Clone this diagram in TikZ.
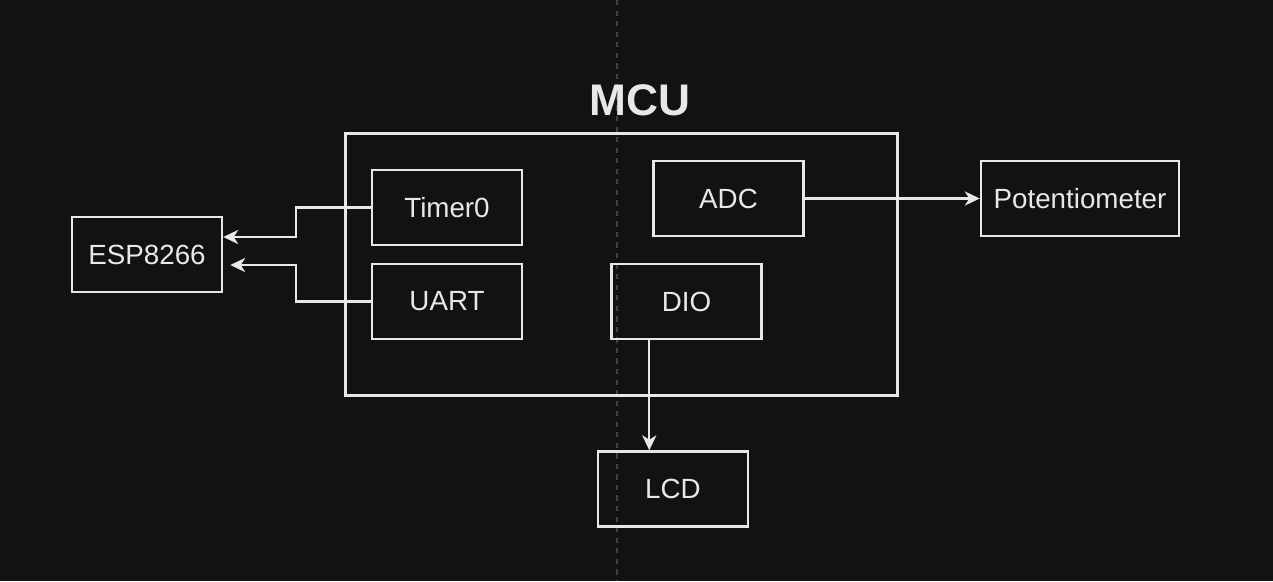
\documentclass[tikz,border=0pt]{standalone}
\usepackage{fontspec}
\setmainfont{Liberation Sans}
\usetikzlibrary{arrows.meta,calc}
\definecolor{bgdark}{HTML}{121212}
\definecolor{fgline}{HTML}{E8E8E8}
\definecolor{guide}{HTML}{404040}
\tikzset{
  blk/.style={draw=fgline,line width=1.4pt,text=fgline,font=\fontsize{15.8}{18}\selectfont,
    minimum width=3cm,minimum height=1.5cm,inner sep=0pt},
  link/.style={draw=fgline,line width=1.3pt,-{Stealth[length=8.5pt,width=8pt,inset=2.5pt]}}
}
\begin{document}
\begin{tikzpicture}[x=0.02cm,y=-0.02cm]
%background and page frame
    \fill[bgdark] (0,0) rectangle (1273,581);
    \useasboundingbox (0,0) rectangle (1273,581);
%faint guide line
    \draw[guide,line width=0.6pt,dash pattern=on 3pt off 3pt] (617,0) -- (617,581);
%controller frame and its title
    \node[draw=fgline,line width=1.7pt,minimum width=11.06cm,minimum height=5.26cm] (mcu) at (621.5,264.5) {};
    \node[text=fgline,font=\fontsize{25.2}{28}\selectfont\bfseries] (mcutitle) at (640,100) {MCU};
%blocks inside the controller
    \node[blk] (timer) at (447,207.5) {Timer0};
    \node[blk] (uart) at (447,301.5) {UART};
    \node[blk] (adc) at (728.5,198.5) {ADC};
    \node[blk] (dio) at (686.5,301.5) {DIO};
%outside parts
    \node[blk] (esp) at (147,254.5) {ESP8266};
    \node[blk,minimum width=3.96cm] (pot) at (1080,198.5) {Potentiometer};
    \node[blk] (lcd) at (673,489) {LCD};
%connections
    \draw[link] (timer.west) -- ++(-75,0) |- ($(esp.east)+(0,-17.5)$);
    \draw[link] (uart.west) -- ++(-75,0) |- ($(esp.east)+(7,10.5)$);
    \draw[link] (adc.east) -- (pot.west);
    \draw[link] ($(dio.south west)+(39,0)$) coordinate (dioout) -- (dioout |- lcd.north);
\end{tikzpicture}
\end{document}
